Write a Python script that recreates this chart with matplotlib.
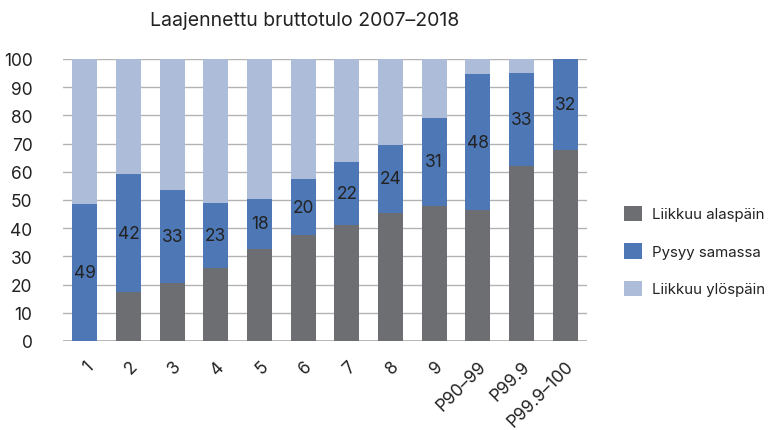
import matplotlib
matplotlib.use("Agg")
import matplotlib.pyplot as plt
import numpy as np

plt.rcParams['font.family'] = ['Inter', 'DejaVu Sans']

categories = ['1', '2', '3', '4', '5', '6', '7', '8', '9', 'P90–99', 'P99.9', 'P99.9–100']
down = [0.0, 17.4, 20.6, 25.8, 32.7, 37.7, 41.2, 45.4, 48.0, 46.4, 61.9, 67.6]
same = [48.6, 41.7, 32.9, 23.1, 17.6, 19.6, 22.4, 24.2, 31.1, 48.2, 33.3, 32.4]
up = [100 - d - s for d, s in zip(down, same)]

c_down = '#6d6e71'
c_same = '#4e78b5'
c_up = '#adbdd9'
txt = '#222222'

fig = plt.figure(figsize=(7.75, 4.31), dpi=100)
ax = fig.add_axes([63 / 775, 1 - 342 / 431, 524 / 775, 282 / 431])

x = np.arange(len(categories))
w = 0.57
ax.bar(x, down, w, color=c_down, label='Liikkuu alaspäin', zorder=3)
ax.bar(x, same, w, bottom=down, color=c_same, label='Pysyy samassa', zorder=3)
ax.bar(x, up, w, bottom=np.array(down) + np.array(same), color=c_up,
       label='Liikkuu ylöspäin', zorder=3)

for xi, d, s in zip(x, down, same):
    ax.text(xi, d + s / 2, f"{s:.0f}", ha='center', va='center',
            fontsize=12.5, color=txt, zorder=4)

ax.set_xlim(-0.5, len(categories) - 0.5)
ax.set_ylim(0, 100)
ax.set_yticks(np.arange(0, 101, 10))
ax.yaxis.grid(True, color='#b3b3b3', linewidth=1, zorder=0)
ax.set_axisbelow(True)
for sp in ax.spines.values():
    sp.set_visible(False)
ax.axhline(0, color='#b3b3b3', linewidth=1.3, zorder=2)
ax.tick_params(axis='both', length=0, labelsize=12.5, colors=txt)
ax.tick_params(axis='y', pad=22)
ax.set_xticks(x)
ax.set_xticklabels(categories, rotation=45, ha='right', rotation_mode='anchor')
ax.tick_params(axis='x', pad=12)

fig.text(305 / 775, 1 - 21 / 431, 'Laajennettu bruttotulo 2007–2018',
         ha='center', va='center', fontsize=14, color=txt)

fig.legend(loc='center left', bbox_to_anchor=(610 / 775, 1 - 252 / 431),
           frameon=False, fontsize=10.8, handlelength=1.2, handleheight=1.2,
           labelspacing=1.45, handletextpad=0.7, labelcolor=txt)

fig.savefig('out.png', dpi=100)
